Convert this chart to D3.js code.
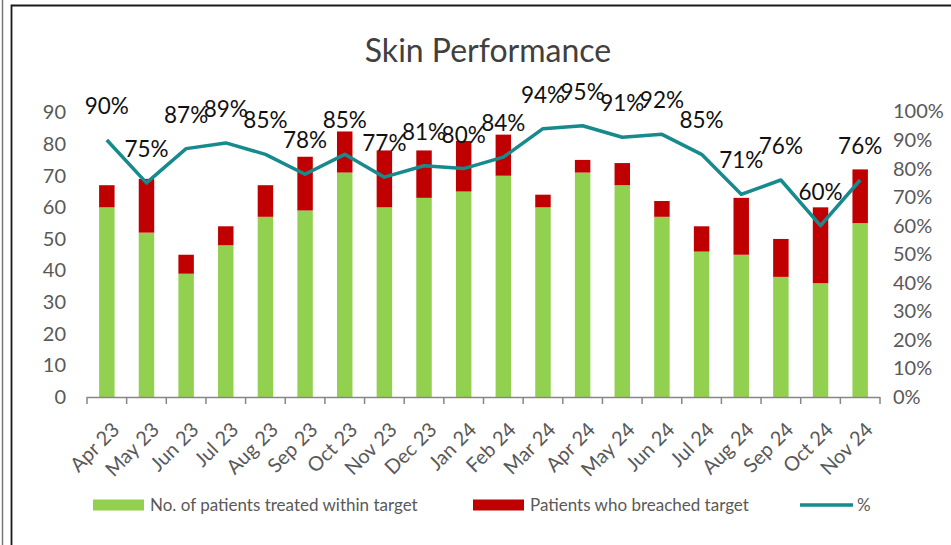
<!DOCTYPE html>
<html>
<head>
<meta charset="utf-8">
<script src="https://cdn.jsdelivr.net/npm/d3@7"></script>
<style>
  body{margin:0;background:#fff;}
  svg{display:block;font-family:Lato,"Open Sans",sans-serif;}
</style>
</head>
<body>
<div id="chart"></div>
<script>
// data
var months = ["Apr 23","May 23","Jun 23","Jul 23","Aug 23","Sep 23","Oct 23","Nov 23","Dec 23","Jan 24",
              "Feb 24","Mar 24","Apr 24","May 24","Jun 24","Jul 24","Aug 24","Sep 24","Oct 24","Nov 24"]
var withinTarget = [60,52,39,48,57,59,71,60,63,65,70,60,71,67,57,46,45,38,36,55]
var breached     = [7,17,6,6,10,17,13,18,15,16,13,4,4,7,5,8,18,12,24,17]
var pct          = [90,75,87,89,85,78,85,77,81,80,84,94,95,91,92,85,71,76,60,76]
var leftTicks = [0,10,20,30,40,50,60,70,80,90]
var rightTicks = [0,10,20,30,40,50,60,70,80,90,100]

var W = 951, H = 545
var green = "#92D050", red = "#C00000", teal = "#168A8C", axisGrey = "#595959"

var svg = d3.select("#chart").append("svg").attr("width",W).attr("height",H)

// frame
svg.append("line").attr("x1",2.5).attr("x2",2.5).attr("y1",0).attr("y2",H).attr("stroke","#777").attr("stroke-width",1.5)
svg.append("path").attr("d","M11.5,"+H+" V5.5 H"+W).attr("fill","none").attr("stroke","#1a1a1a").attr("stroke-width",1.8)

var x = d3.scaleBand().domain(months).range([87,880]).paddingInner(0.61).paddingOuter(0.305)
var yL = d3.scaleLinear().domain([0,90]).range([397,112.5])
var yR = d3.scaleLinear().domain([0,100]).range([397,111.5])

// title
svg.append("text").attr("x",488).attr("y",62).attr("text-anchor","middle")
    .attr("font-size",32).attr("fill","#404040").text("Skin Performance")

// stacked bars
var rows = months.map(function(m,i){ return {m:m, a:withinTarget[i], b:breached[i]} })
svg.selectAll("rect.g").data(rows).enter().append("rect").attr("class","g")
    .attr("x",function(d){return x(d.m)})
    .attr("y",function(d){return yL(d.a)})
    .attr("width",x.bandwidth())
    .attr("height",function(d){return yL(0)-yL(d.a)})
    .attr("fill",green)
svg.selectAll("rect.r").data(rows).enter().append("rect").attr("class","r")
    .attr("x",function(d){return x(d.m)})
    .attr("y",function(d){return yL(d.a+d.b)})
    .attr("width",x.bandwidth())
    .attr("height",function(d){return yL(d.a)-yL(d.a+d.b)})
    .attr("fill",red)

// x axis line + ticks at band edges
var step = x.step(), x0 = x.range()[0]
svg.append("line").attr("x1",x0).attr("x2",x.range()[1]).attr("y1",397.5).attr("y2",397.5)
    .attr("stroke","#868686").attr("stroke-width",1.5)
svg.selectAll("line.tk").data(d3.range(months.length+1)).enter().append("line").attr("class","tk")
    .attr("x1",function(i){return x0+i*step}).attr("x2",function(i){return x0+i*step})
    .attr("y1",397).attr("y2",404).attr("stroke","#868686").attr("stroke-width",1.5)

// x labels
svg.selectAll("text.xl").data(months).enter().append("text").attr("class","xl")
    .attr("transform",function(d){
        var cx = x(d)+x.bandwidth()/2+9
        return "translate("+cx+",426) rotate(-45)"
    })
    .attr("text-anchor","end").attr("font-size",20).attr("fill",axisGrey)
    .attr("dy","0.35em")
    .text(function(d){return d})

// left axis
var gl = svg.append("g").attr("transform","translate(70,0)")
    .call(d3.axisLeft(yL).tickValues(leftTicks).tickSize(0).tickPadding(4))
gl.select(".domain").remove()
gl.selectAll("text").attr("font-size",20).attr("fill",axisGrey).attr("font-family","Lato,sans-serif")

// right axis
var gr = svg.append("g").attr("transform","translate(889,0)")
    .call(d3.axisRight(yR).tickValues(rightTicks).tickSize(0).tickPadding(4).tickFormat(function(d){return d+"%"}))
gr.select(".domain").remove()
gr.selectAll("text").attr("font-size",20).attr("fill",axisGrey).attr("font-family","Lato,sans-serif")

// % line
var line = d3.line()
    .x(function(d,i){return x(months[i])+x.bandwidth()/2})
    .y(function(d){return yR(d)})
svg.append("path").datum(pct).attr("d",line).attr("fill","none")
    .attr("stroke",teal).attr("stroke-width",3.5).attr("stroke-linejoin","round")

svg.selectAll("text.pl").data(pct).enter().append("text").attr("class","pl")
    .attr("x",function(d,i){return x(months[i])+x.bandwidth()/2})
    .attr("y",function(d){return yR(d)-26})
    .attr("text-anchor","middle").attr("font-size",22.5).attr("fill","#111")
    .text(function(d){return d+"%"})

// legend
var legend = [
    {label:"No. of patients treated within target", x:93, type:"rect", color:green},
    {label:"Patients who breached target", x:473, type:"rect", color:red},
    {label:"%", x:800, type:"line", color:teal}
]
legend.forEach(function(l){
    if(l.type=="rect"){
        svg.append("rect").attr("x",l.x).attr("y",499.5).attr("width",51).attr("height",11).attr("fill",l.color)
    }else{
        svg.append("line").attr("x1",l.x).attr("x2",l.x+53).attr("y1",505).attr("y2",505)
            .attr("stroke",l.color).attr("stroke-width",3.5)
    }
    svg.append("text").attr("x",l.x+57).attr("y",511)
        .attr("font-size",17).attr("fill",axisGrey).text(l.label)
})
</script>
</body>
</html>
